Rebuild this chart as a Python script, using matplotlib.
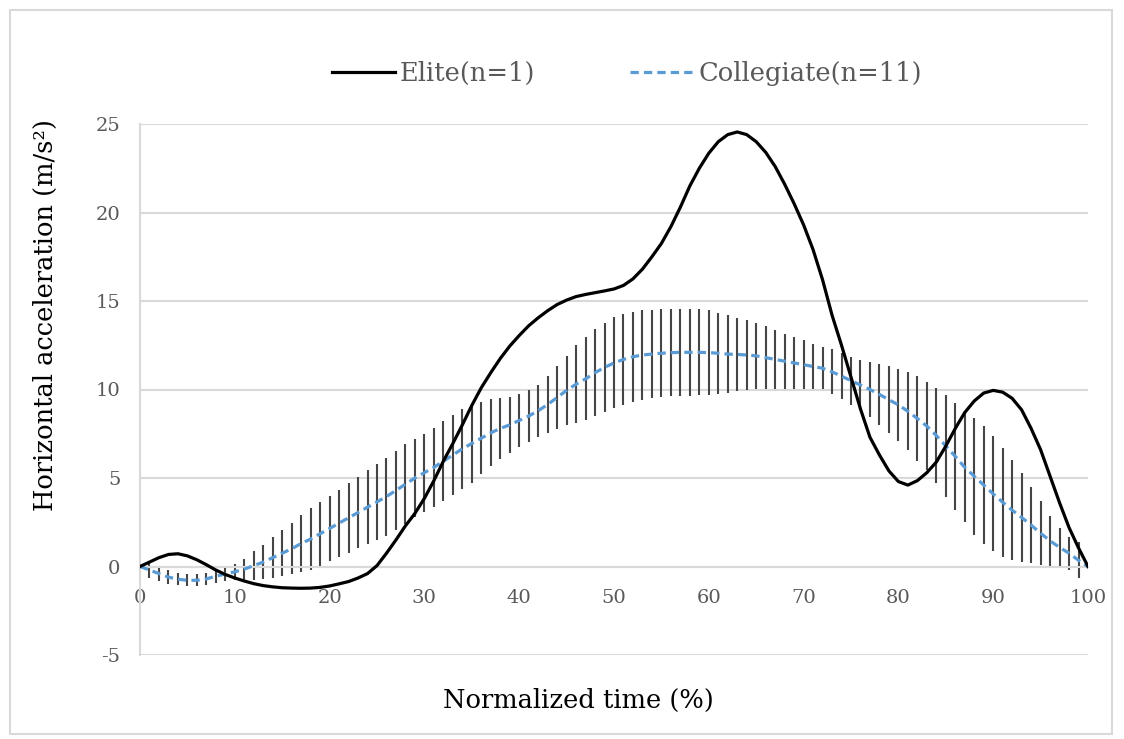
import numpy as np
import matplotlib
matplotlib.use("Agg")
from matplotlib import pyplot as plt
from matplotlib.patches import Rectangle

plt.rcParams['font.family'] = ['DejaVu Serif']

# normalized time 0..100 %
time_pct = list(range(0, 101))

# elite athlete (n=1)
elite = [0.0, 0.25, 0.5, 0.68, 0.72, 0.6, 0.38, 0.1, -0.2, -0.45,
         -0.65, -0.82, -0.97, -1.08, -1.15, -1.2, -1.22, -1.23, -1.22, -1.18,
         -1.1, -0.98, -0.85, -0.65, -0.4, 0.05, 0.75, 1.5, 2.3, 3.0,
         3.85, 4.85, 5.95, 6.95, 8.0, 9.1, 10.1, 10.95, 11.75, 12.45,
         13.05, 13.6, 14.05, 14.45, 14.8, 15.05, 15.25, 15.37, 15.47, 15.57,
         15.68, 15.88, 16.25, 16.8, 17.5, 18.25, 19.2, 20.3, 21.5, 22.5,
         23.35, 24.0, 24.4, 24.55, 24.4, 24.0, 23.4, 22.6, 21.6, 20.5,
         19.3, 17.9, 16.2, 14.2, 12.5, 10.7, 8.9, 7.3, 6.3, 5.4,
         4.8, 4.6, 4.85, 5.3, 5.9, 6.8, 7.8, 8.7, 9.35, 9.8,
         9.95, 9.85, 9.5, 8.85, 7.8, 6.6, 5.1, 3.6, 2.2, 1.05,
         0.0]

# collegiate mean (n=11)
college_mean = [0.0, -0.2, -0.4, -0.6, -0.72, -0.78, -0.78, -0.7, -0.55, -0.42,
                -0.3, -0.15, 0.05, 0.25, 0.5, 0.75, 1.0, 1.3, 1.55, 1.85,
                2.15, 2.45, 2.75, 3.05, 3.35, 3.65, 3.95, 4.3, 4.65, 5.0,
                5.3, 5.6, 5.95, 6.3, 6.65, 6.95, 7.25, 7.55, 7.8, 8.0,
                8.25, 8.5, 8.8, 9.15, 9.55, 9.95, 10.3, 10.6, 10.95, 11.25,
                11.5, 11.7, 11.85, 11.95, 12.0, 12.05, 12.08, 12.1, 12.1, 12.1,
                12.08, 12.05, 12.0, 11.98, 11.95, 11.9, 11.8, 11.7, 11.6, 11.5,
                11.4, 11.3, 11.2, 11.0, 10.75, 10.5, 10.25, 10.0, 9.72, 9.42,
                9.13, 8.77, 8.36, 7.93, 7.4, 6.81, 6.22, 5.6, 5.1, 4.6,
                4.1, 3.63, 3.18, 2.77, 2.34, 1.88, 1.45, 1.08, 0.75, 0.35,
                0.0]

# collegiate SD
college_sd = [0.0, 0.45, 0.4, 0.38, 0.35, 0.33, 0.33, 0.35, 0.37, 0.4,
              0.45, 0.6, 0.8, 0.97, 1.14, 1.3, 1.45, 1.6, 1.76, 1.8,
              1.83, 1.9, 1.97, 2.02, 2.1, 2.15, 2.2, 2.23, 2.26, 2.22,
              2.2, 2.23, 2.26, 2.26, 2.25, 2.22, 2.05, 1.9, 1.72, 1.58,
              1.48, 1.46, 1.47, 1.63, 1.77, 1.96, 2.19, 2.35, 2.47, 2.53,
              2.57, 2.57, 2.55, 2.52, 2.5, 2.48, 2.46, 2.45, 2.44, 2.42,
              2.41, 2.3, 2.19, 2.08, 1.98, 1.88, 1.78, 1.67, 1.56, 1.46,
              1.37, 1.28, 1.18, 1.27, 1.3, 1.35, 1.41, 1.53, 1.7, 1.9,
              2.05, 2.2, 2.39, 2.5, 2.7, 2.87, 3.04, 3.1, 3.3, 3.35,
              3.25, 3.08, 2.82, 2.54, 2.17, 1.81, 1.41, 1.1, 0.94, 1.02,
              0.0]

x_ticks = [0, 10, 20, 30, 40, 50, 60, 70, 80, 90, 100]
y_ticks = [-5, 0, 5, 10, 15, 20, 25]

grey_txt = '#595959'
grid_col = '#d9d9d9'

fig = plt.figure(figsize=(11.24, 7.39), dpi=100)
ax = fig.add_axes([140/1124, 84/739, 948/1124, 531/739])

# error bars (SD)
ax.errorbar(time_pct, college_mean, yerr=college_sd, fmt='none',
            ecolor='#454545', elinewidth=1.5, capsize=0, zorder=2)
ax.plot(time_pct, college_mean, color='#5B9BD5', lw=2.3,
        linestyle=(0, (2.6, 1.6)), zorder=3, label='Collegiate(n=11)')
ax.plot(time_pct, elite, color='black', lw=2.3, zorder=4,
        label='Elite(n=1)', solid_joinstyle='round')

ax.set_xlim(0, 100)
ax.set_ylim(-5, 25)
ax.set_yticks(y_ticks)
ax.set_xticks(x_ticks)
ax.set_yticklabels([str(v) for v in y_ticks])
ax.set_xticklabels([str(v) for v in x_ticks])
ax.yaxis.grid(True, color=grid_col, lw=1.5)
ax.set_axisbelow(True)

for s in ['top', 'right']:
    ax.spines[s].set_visible(False)
ax.spines['left'].set_color(grid_col)
ax.spines['left'].set_linewidth(1.5)
ax.spines['bottom'].set_position(('data', 0))
ax.spines['bottom'].set_color(grid_col)
ax.spines['bottom'].set_linewidth(1.5)

ax.tick_params(axis='y', length=0, pad=14, labelsize=14, labelcolor=grey_txt)
ax.tick_params(axis='x', length=0, pad=16, labelsize=14, labelcolor=grey_txt)

fig.text(45/1124, 1 - 315/739, 'Horizontal acceleration (m/s²)',
         rotation=90, ha='center', va='center', fontsize=18.5, color='black')
fig.text(578/1124, 1 - 700/739, 'Normalized time (%)',
         ha='center', va='center', fontsize=18.5, color='black')

h, l = ax.get_legend_handles_labels()
leg = fig.legend(h[::-1], l[::-1], loc='center', ncol=2,
                 bbox_to_anchor=(627/1124, 1 - 73/739), frameon=False,
                 fontsize=18.5, handlelength=2.45, handletextpad=0.2,
                 columnspacing=3.7)
for t in leg.get_texts():
    t.set_color(grey_txt)

# chart border
fig.patches.append(Rectangle((10/1124, 5/739), 1102/1124, 724/739,
                             transform=fig.transFigure, fill=False,
                             edgecolor=grid_col, lw=1.5))

fig.savefig('out.png', dpi=100)
